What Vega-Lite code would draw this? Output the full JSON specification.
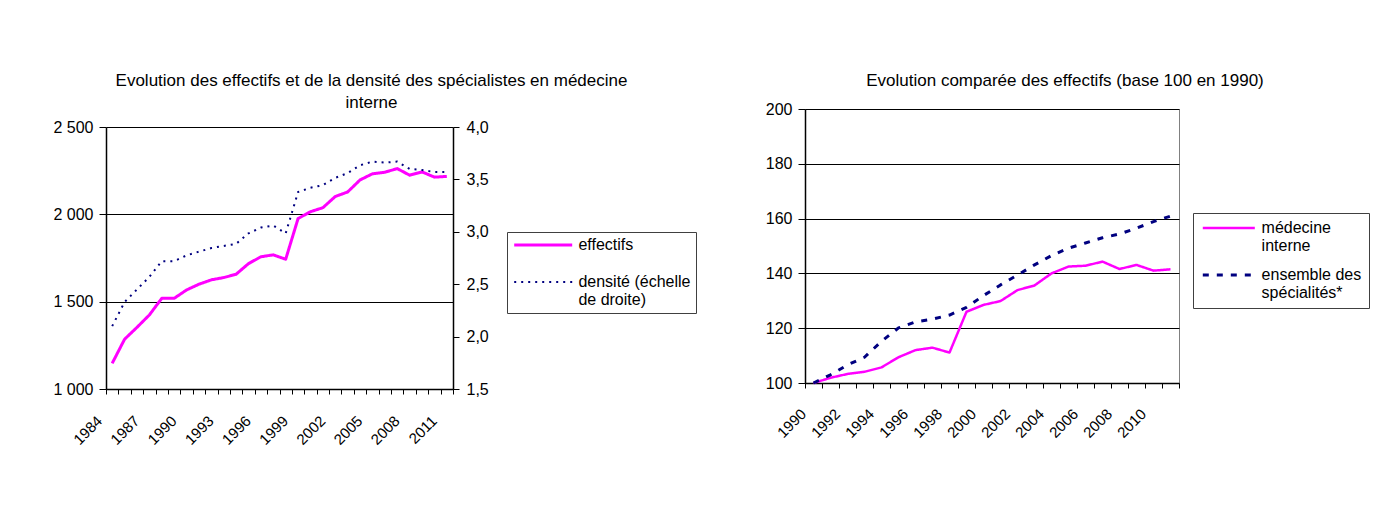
{
  "$schema": "https://vega.github.io/schema/vega-lite/v6.json",
  "background": "white",
  "padding": {"left": 52, "top": 71, "right": 5, "bottom": 5},
  "config": {
    "font": "Liberation Sans",
    "view": {"stroke": "#808080"},
    "axis": {"labelFont": "Liberation Sans", "labelFontSize": 16, "labelColor": "black", "domainColor": "black", "domainWidth": 1.5, "tickColor": "black", "tickWidth": 1, "gridColor": "black", "gridWidth": 1},
    "title": {"font": "Liberation Sans", "fontSize": 17, "fontWeight": "normal", "color": "black"},
    "legend": {"labelFont": "Liberation Sans", "labelFontSize": 16, "labelColor": "black"},
    "line": {"strokeJoin": "round"}
  },
  "datasets": {
    "gauche": [
      {"annee": 1984, "serie": "effectifs", "valeur": 1147},
      {"annee": 1985, "serie": "effectifs", "valeur": 1285},
      {"annee": 1986, "serie": "effectifs", "valeur": 1353},
      {"annee": 1987, "serie": "effectifs", "valeur": 1424},
      {"annee": 1988, "serie": "effectifs", "valeur": 1519},
      {"annee": 1989, "serie": "effectifs", "valeur": 1519},
      {"annee": 1990, "serie": "effectifs", "valeur": 1567},
      {"annee": 1991, "serie": "effectifs", "valeur": 1600},
      {"annee": 1992, "serie": "effectifs", "valeur": 1625},
      {"annee": 1993, "serie": "effectifs", "valeur": 1638},
      {"annee": 1994, "serie": "effectifs", "valeur": 1657},
      {"annee": 1995, "serie": "effectifs", "valeur": 1718},
      {"annee": 1996, "serie": "effectifs", "valeur": 1757},
      {"annee": 1997, "serie": "effectifs", "valeur": 1768},
      {"annee": 1998, "serie": "effectifs", "valeur": 1743},
      {"annee": 1999, "serie": "effectifs", "valeur": 1976},
      {"annee": 2000, "serie": "effectifs", "valeur": 2015},
      {"annee": 2001, "serie": "effectifs", "valeur": 2038},
      {"annee": 2002, "serie": "effectifs", "valeur": 2102},
      {"annee": 2003, "serie": "effectifs", "valeur": 2128},
      {"annee": 2004, "serie": "effectifs", "valeur": 2197},
      {"annee": 2005, "serie": "effectifs", "valeur": 2232},
      {"annee": 2006, "serie": "effectifs", "valeur": 2241},
      {"annee": 2007, "serie": "effectifs", "valeur": 2262},
      {"annee": 2008, "serie": "effectifs", "valeur": 2224},
      {"annee": 2009, "serie": "effectifs", "valeur": 2243},
      {"annee": 2010, "serie": "effectifs", "valeur": 2213},
      {"annee": 2011, "serie": "effectifs", "valeur": 2217},
      {"annee": 1984, "serie": "densité (échelle de droite)", "valeur": 2.10},
      {"annee": 1985, "serie": "densité (échelle de droite)", "valeur": 2.33},
      {"annee": 1986, "serie": "densité (échelle de droite)", "valeur": 2.45},
      {"annee": 1987, "serie": "densité (échelle de droite)", "valeur": 2.57},
      {"annee": 1988, "serie": "densité (échelle de droite)", "valeur": 2.72},
      {"annee": 1989, "serie": "densité (échelle de droite)", "valeur": 2.72},
      {"annee": 1990, "serie": "densité (échelle de droite)", "valeur": 2.775},
      {"annee": 1991, "serie": "densité (échelle de droite)", "valeur": 2.81},
      {"annee": 1992, "serie": "densité (échelle de droite)", "valeur": 2.845},
      {"annee": 1993, "serie": "densité (échelle de droite)", "valeur": 2.865},
      {"annee": 1994, "serie": "densité (échelle de droite)", "valeur": 2.885},
      {"annee": 1995, "serie": "densité (échelle de droite)", "valeur": 2.985},
      {"annee": 1996, "serie": "densité (échelle de droite)", "valeur": 3.04},
      {"annee": 1997, "serie": "densité (échelle de droite)", "valeur": 3.06},
      {"annee": 1998, "serie": "densité (échelle de droite)", "valeur": 2.985},
      {"annee": 1999, "serie": "densité (échelle de droite)", "valeur": 3.38},
      {"annee": 2000, "serie": "densité (échelle de droite)", "valeur": 3.42},
      {"annee": 2001, "serie": "densité (échelle de droite)", "valeur": 3.445},
      {"annee": 2002, "serie": "densité (échelle de droite)", "valeur": 3.515},
      {"annee": 2003, "serie": "densité (échelle de droite)", "valeur": 3.56},
      {"annee": 2004, "serie": "densité (échelle de droite)", "valeur": 3.635},
      {"annee": 2005, "serie": "densité (échelle de droite)", "valeur": 3.67},
      {"annee": 2006, "serie": "densité (échelle de droite)", "valeur": 3.66},
      {"annee": 2007, "serie": "densité (échelle de droite)", "valeur": 3.67},
      {"annee": 2008, "serie": "densité (échelle de droite)", "valeur": 3.60},
      {"annee": 2009, "serie": "densité (échelle de droite)", "valeur": 3.59},
      {"annee": 2010, "serie": "densité (échelle de droite)", "valeur": 3.57},
      {"annee": 2011, "serie": "densité (échelle de droite)", "valeur": 3.57}
    ],
    "droite": [
      {"annee": 1990, "courbe": "médecine interne", "indice": 100},
      {"annee": 1991, "courbe": "médecine interne", "indice": 101.9},
      {"annee": 1992, "courbe": "médecine interne", "indice": 103.3},
      {"annee": 1993, "courbe": "médecine interne", "indice": 104.1},
      {"annee": 1994, "courbe": "médecine interne", "indice": 105.7},
      {"annee": 1995, "courbe": "médecine interne", "indice": 109.4},
      {"annee": 1996, "courbe": "médecine interne", "indice": 112.0},
      {"annee": 1997, "courbe": "médecine interne", "indice": 112.9},
      {"annee": 1998, "courbe": "médecine interne", "indice": 111.1},
      {"annee": 1999, "courbe": "médecine interne", "indice": 126.0},
      {"annee": 2000, "courbe": "médecine interne", "indice": 128.5},
      {"annee": 2001, "courbe": "médecine interne", "indice": 129.9},
      {"annee": 2002, "courbe": "médecine interne", "indice": 133.9},
      {"annee": 2003, "courbe": "médecine interne", "indice": 135.6},
      {"annee": 2004, "courbe": "médecine interne", "indice": 140.0},
      {"annee": 2005, "courbe": "médecine interne", "indice": 142.5},
      {"annee": 2006, "courbe": "médecine interne", "indice": 142.8},
      {"annee": 2007, "courbe": "médecine interne", "indice": 144.3},
      {"annee": 2008, "courbe": "médecine interne", "indice": 141.6},
      {"annee": 2009, "courbe": "médecine interne", "indice": 143.1},
      {"annee": 2010, "courbe": "médecine interne", "indice": 141.0},
      {"annee": 2011, "courbe": "médecine interne", "indice": 141.5},
      {"annee": 1990, "courbe": "ensemble des spécialités*", "indice": 100},
      {"annee": 1991, "courbe": "ensemble des spécialités*", "indice": 103.0},
      {"annee": 1992, "courbe": "ensemble des spécialités*", "indice": 106.6},
      {"annee": 1993, "courbe": "ensemble des spécialités*", "indice": 109.4},
      {"annee": 1994, "courbe": "ensemble des spécialités*", "indice": 115.2},
      {"annee": 1995, "courbe": "ensemble des spécialités*", "indice": 120.1},
      {"annee": 1996, "courbe": "ensemble des spécialités*", "indice": 122.3},
      {"annee": 1997, "courbe": "ensemble des spécialités*", "indice": 123.3},
      {"annee": 1998, "courbe": "ensemble des spécialités*", "indice": 124.8},
      {"annee": 1999, "courbe": "ensemble des spécialités*", "indice": 127.6},
      {"annee": 2000, "courbe": "ensemble des spécialités*", "indice": 131.9},
      {"annee": 2001, "courbe": "ensemble des spécialités*", "indice": 135.8},
      {"annee": 2002, "courbe": "ensemble des spécialités*", "indice": 139.4},
      {"annee": 2003, "courbe": "ensemble des spécialités*", "indice": 143.1},
      {"annee": 2004, "courbe": "ensemble des spécialités*", "indice": 146.5},
      {"annee": 2005, "courbe": "ensemble des spécialités*", "indice": 149.2},
      {"annee": 2006, "courbe": "ensemble des spécialités*", "indice": 151.1},
      {"annee": 2007, "courbe": "ensemble des spécialités*", "indice": 153.0},
      {"annee": 2008, "courbe": "ensemble des spécialités*", "indice": 154.4},
      {"annee": 2009, "courbe": "ensemble des spécialités*", "indice": 156.5},
      {"annee": 2010, "courbe": "ensemble des spécialités*", "indice": 158.9},
      {"annee": 2011, "courbe": "ensemble des spécialités*", "indice": 160.9}
    ]
  },
  "hconcat": [
    {
      "width": 347,
      "height": 280,
      "data": {"name": "gauche"},
      "view": {"stroke": null},
      "title": {"text": ["Evolution des effectifs et de la densité des spécialistes en médecine", "interne"], "lineHeight": 22, "anchor": "middle", "frame": "group", "dx": 92, "offset": -3},
      "encoding": {
        "x": {"field": "annee", "type": "ordinal", "scale": {"type": "band", "paddingInner": 0, "paddingOuter": 0},
          "axis": {"title": null, "tickBand": "extent", "tickSize": 5, "labelAngle": -45, "labelAlign": "right", "labelBaseline": "middle", "labelPadding": 24, "labelOffset": -13, "labelOverlap": false, "labelFontSize": 15, "labelExpr": "(datum.value - 1984) % 3 == 0 ? datum.label : ''"}},
        "color": {"field": "serie", "type": "nominal",
          "scale": {"domain": ["effectifs", "densité (échelle de droite)"], "range": ["#FF00FF", "#000080"]},
          "legend": {"title": null, "orient": "none", "legendX": 401, "legendY": 123, "direction": "vertical", "symbolType": "M-1,0H9", "symbolSize": 134.56, "strokeColor": "#404040", "padding": 5, "rowPadding": 21, "labelOffset": 50.4, "labelLimit": 300, "labelBaseline": "middle",
            "labelExpr": "datum.label == 'effectifs' ? 'effectifs' : ['densité (échelle', 'de droite)']"}},
        "strokeDash": {"field": "serie", "type": "nominal", "scale": {"domain": ["effectifs", "densité (échelle de droite)"], "range": [[1, 0], [2, 5]]}},
        "strokeWidth": {"field": "serie", "type": "nominal", "scale": {"domain": ["effectifs", "densité (échelle de droite)"], "range": [3, 2]}}
      },
      "layer": [
        {
          "transform": [{"filter": "datum.serie == 'effectifs'"}],
          "mark": {"type": "line"},
          "encoding": {
            "y": {"field": "valeur", "type": "quantitative", "scale": {"domain": [1000, 2500], "nice": false, "zero": false, "range": [280, 18]},
              "axis": {"title": null, "orient": "left", "values": [1000, 1500, 2000, 2500], "grid": true, "tickSize": 7, "labelPadding": 6, "labelExpr": "replace(format(datum.value, ','), ',', ' ')"}}
          }
        },
        {
          "transform": [{"filter": "datum.serie != 'effectifs'"}],
          "mark": {"type": "line"},
          "encoding": {
            "y": {"field": "valeur", "type": "quantitative", "scale": {"domain": [1.5, 4], "nice": false, "zero": false, "range": [280, 18]},
              "axis": {"title": null, "orient": "right", "values": [1.5, 2, 2.5, 3, 3.5, 4], "grid": false, "tickSize": 6, "labelPadding": 7, "labelExpr": "replace(format(datum.value, '.1f'), '.', ',')"}}
          }
        }
      ],
      "resolve": {"scale": {"y": "independent"}}
    },
    {
      "width": 374,
      "height": 274,
      "data": {"name": "droite"},
      "title": {"text": "Evolution comparée des effectifs (base 100 en 1990)", "anchor": "middle", "frame": "group", "dx": 73, "offset": 11},
      "mark": {"type": "line"},
      "encoding": {
        "x": {"field": "annee", "type": "ordinal", "scale": {"type": "band", "paddingInner": 0, "paddingOuter": 0},
          "axis": {"title": null, "tickBand": "extent", "tickSize": 5, "labelAngle": -45, "labelAlign": "right", "labelBaseline": "middle", "labelPadding": 23, "labelOffset": -10.5, "labelOverlap": false, "labelFontSize": 15, "labelExpr": "(datum.value - 1990) % 2 == 0 ? datum.label : ''"}},
        "y": {"field": "indice", "type": "quantitative", "scale": {"domain": [100, 200], "nice": false, "zero": false},
          "axis": {"title": null, "values": [100, 120, 140, 160, 180, 200], "grid": true, "tickSize": 7, "labelPadding": 6}},
        "color": {"field": "courbe", "type": "nominal",
          "scale": {"domain": ["médecine interne", "ensemble des spécialités*"], "range": ["#FF00FF", "#000080"]},
          "legend": {"title": null, "orient": "none", "legendX": 388, "legendY": 104, "direction": "vertical", "symbolType": "M-1,0H9", "symbolSize": 108.16, "strokeColor": "#404040", "padding": 7, "rowPadding": 13, "labelOffset": 45.6, "labelLimit": 300, "labelBaseline": "middle",
            "labelExpr": "datum.label == 'médecine interne' ? ['médecine', 'interne'] : ['ensemble des', 'spécialités*']"}},
        "strokeDash": {"field": "courbe", "type": "nominal", "scale": {"domain": ["médecine interne", "ensemble des spécialités*"], "range": [[1, 0], [6, 8]]}},
        "strokeWidth": {"field": "courbe", "type": "nominal", "scale": {"domain": ["médecine interne", "ensemble des spécialités*"], "range": [2.5, 3]}}
      }
    }
  ],
  "resolve": {"scale": {"color": "independent", "strokeDash": "independent", "strokeWidth": "independent"}, "legend": {"color": "independent", "strokeDash": "independent", "strokeWidth": "independent"}},
  "spacing": 67
}
